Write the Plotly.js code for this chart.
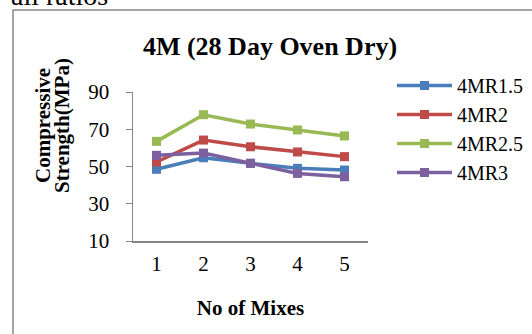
<!DOCTYPE html>
<html>
<head>
<meta charset="utf-8">
<script src="https://cdn.plot.ly/plotly-3.0.1.min.js"></script>
<style>html,body{margin:0;padding:0;background:#fff;}#chart{width:532px;height:334px;}</style>
</head>
<body>
<div id="chart"></div>
<script>
const mixes = ['1', '2', '3', '4', '5'];
const seriesNames = ['4MR1.5', '4MR2', '4MR2.5', '4MR3'];
const mr15 = [48.5, 54.7, 51.7, 49.0, 48.1];
const mr2 = [52.4, 64.2, 60.6, 57.8, 55.3];
const mr25 = [63.5, 77.8, 72.8, 69.6, 66.4];
const mr3 = [56.0, 57.2, 51.7, 46.3, 44.5];
const yTicks = [10, 30, 50, 70, 90];
const colors = ['#4a7ebb', '#be4b48', '#98b954', '#7d60a0'];

const serif = "'Liberation Serif', 'Times New Roman', Times, serif";
const allSeries = [mr15, mr2, mr25, mr3];
const traces = allSeries.map((vals, i) => ({
  type: 'scatter', mode: 'lines+markers',
  x: mixes, y: vals, name: seriesNames[i],
  line: {color: colors[i], width: 3.5},
  marker: {symbol: 'square', size: 9, color: colors[i]}
}));

const L = 133, R = 368, T = 92, B = 241;
const pw = R - L, ph = B - T;
const px = v => (v - L) / pw;
const py = v => (B - v) / ph;

const layout = {
  width: 532, height: 334,
  margin: {l: L, r: 532 - R, t: T, b: 334 - B, pad: 0, autoexpand: false},
  paper_bgcolor: '#fff', plot_bgcolor: '#fff',
  showlegend: true,
  font: {family: serif, size: 21, color: '#000'},
  title: {
    text: '<b>4M (28 Day Oven Dry)</b>',
    font: {family: serif, size: 26, color: '#000'},
    xref: 'paper', x: px(270), xanchor: 'center',
    yref: 'container', y: 1 - 46 / 334, yanchor: 'middle'
  },
  xaxis: {
    type: 'category', range: [-0.5, 4.5],
    showline: true, linecolor: '#868686', linewidth: 1.5,
    showgrid: false, zeroline: false, ticks: '',
    tickfont: {family: serif, size: 21, color: '#000'},
    ticklabelstandoff: 3,
    title: {text: '<b>No of Mixes</b>', font: {family: serif, size: 21, color: '#000'}, standoff: 25},
    automargin: false, fixedrange: true
  },
  yaxis: {
    range: [10, 90], tickvals: yTicks, ticktext: yTicks.map(String),
    showline: true, linecolor: '#868686', linewidth: 1.5,
    showgrid: false, zeroline: false, ticks: 'outside', ticklen: 6, tickcolor: '#868686',
    tickfont: {family: serif, size: 21, color: '#000'},
    ticklabelstandoff: 12,
    automargin: false, fixedrange: true
  },
  legend: {
    x: px(392), xanchor: 'left', y: py(66), yanchor: 'top',
    font: {family: serif, size: 20, color: '#000'},
    itemwidth: 55,
    traceorder: 'normal',
    bgcolor: 'rgba(0,0,0,0)', borderwidth: 0
  },
  shapes: [{
    type: 'rect', xref: 'paper', yref: 'paper',
    x0: px(13), x1: px(545), y0: py(350), y1: py(10),
    line: {color: '#888', width: 1.5}, fillcolor: 'rgba(0,0,0,0)', layer: 'below'
  }],
  annotations: [
    {text: 'all ratios', xref: 'paper', yref: 'paper', x: px(9), y: py(13),
     xanchor: 'left', yanchor: 'bottom', showarrow: false,
     font: {family: serif, size: 28, color: '#000'}},
    {text: '<b>Compressive</b>', xref: 'paper', yref: 'paper',
     x: px(43), y: py(126), xanchor: 'center', yanchor: 'middle', textangle: -90,
     showarrow: false, font: {family: serif, size: 21, color: '#000'}},
    {text: '<b>Strength(MPa)</b>', xref: 'paper', yref: 'paper',
     x: px(62), y: py(126), xanchor: 'center', yanchor: 'middle', textangle: -90,
     showarrow: false, font: {family: serif, size: 21, color: '#000'}}
  ]
};

Plotly.newPlot('chart', traces, layout, {displayModeBar: false, staticPlot: true});
</script>
</body>
</html>
